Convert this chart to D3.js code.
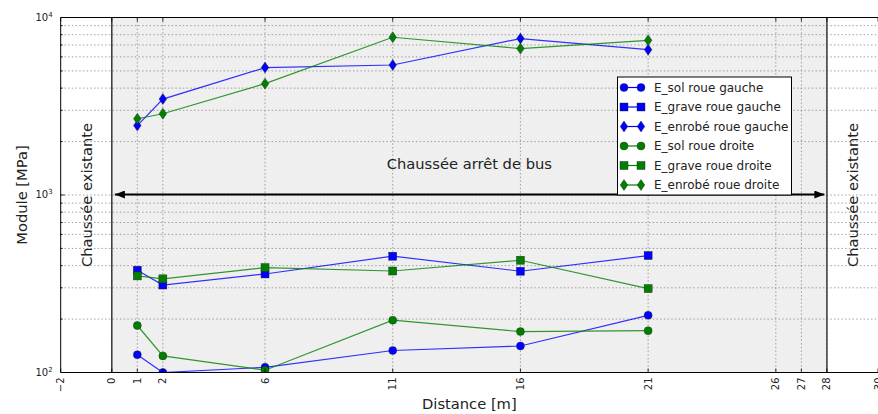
<!DOCTYPE html>
<html><head><meta charset="utf-8">
<script src="https://cdn.jsdelivr.net/npm/d3@7"></script>
<style>body{margin:0;background:#fff;overflow:hidden}svg{display:block}text{font-family:"DejaVu Sans",sans-serif}</style>
</head><body><svg id="c" width="878" height="414"></svg>
<script>
const distances = [1, 2, 6, 11, 16, 21];
const eSolGauche = [126, 100, 107, 133, 141, 210];
const eGraveGauche = [377, 311, 359, 452, 372, 456];
const eEnrobeGauche = [2460, 3470, 5220, 5400, 7610, 6590];
const eSolDroite = [184, 124, 103, 197, 170, 172];
const eGraveDroite = [350, 337, 390, 373, 429, 297];
const eEnrobeDroite = [2690, 2870, 4240, 7740, 6680, 7440];
const seriesNames = ["E_sol roue gauche","E_grave roue gauche","E_enrobé roue gauche","E_sol roue droite","E_grave roue droite","E_enrobé roue droite"];
const seriesValues = [eSolGauche, eGraveGauche, eEnrobeGauche, eSolDroite, eGraveDroite, eEnrobeDroite];
const seriesColors = ["#0000ff","#0000ff","#0000ff","#007f00","#007f00","#007f00"];
const seriesMarkers = ["circle","square","diamond","circle","square","diamond"];
const xTicks = [-2, 0, 1, 2, 6, 11, 16, 21, 26, 27, 28, 30];
const yMajor = [100, 1000, 10000];
const yExponents = ["2", "3", "4"];
const zoneBounds = [0, 28];
const zoneLabel = "Chaussée arrêt de bus";
const sideLabel = "Chaussée existante";
const xLabel = "Distance [m]";
const yLabel = "Module [MPa]";

const svg = d3.select("#c");
const L = 60.7, R = 878, T = 17.5, B = 372.5;
const x = d3.scaleLinear().domain([-2, 30]).range([L, R]);
const y = d3.scaleLog().domain([100, 10000]).range([B, T]);
const BIG = 14.7;

svg.append("defs").append("clipPath").attr("id","clip").append("rect")
  .attr("x", L).attr("y", T).attr("width", R - L).attr("height", B - T);

// shaded zone
svg.append("rect").attr("x", x(zoneBounds[0])).attr("y", T)
  .attr("width", x(zoneBounds[1]) - x(zoneBounds[0])).attr("height", B - T)
  .attr("fill", "#efefef");

// grid
const yGrid = [];
for (let d = 100; d < 10000; d *= 10) for (let k = 1; k <= 9; k++) yGrid.push(d * k);
yGrid.push(10000);
const g = svg.append("g").attr("stroke", "#8a8a8a").attr("stroke-width", 0.8).attr("stroke-dasharray", "1.5,2.2");
g.selectAll("line.h").data(yGrid.filter(v => v > 100 && v < 10000)).join("line")
  .attr("x1", L).attr("x2", R).attr("y1", d => y(d)).attr("y2", d => y(d));
g.selectAll("line.v").data(xTicks.filter(v => v > -2 && v < 30)).join("line")
  .attr("x1", d => x(d)).attr("x2", d => x(d)).attr("y1", T).attr("y2", B);

// zone boundaries
svg.selectAll("line.zb").data(zoneBounds).join("line")
  .attr("x1", d => x(d)).attr("x2", d => x(d)).attr("y1", T).attr("y2", B)
  .attr("stroke", "#3a3a3a").attr("stroke-width", 1.5);

// series
const plot = svg.append("g").attr("clip-path", "url(#clip)");
function marker(sel, type, color, cx, cy) {
  if (type === "circle") sel.append("circle").attr("cx", cx).attr("cy", cy).attr("r", 4);
  else if (type === "square") sel.append("rect").attr("x", cx - 4).attr("y", cy - 4).attr("width", 8).attr("height", 8);
  else sel.append("path").attr("d", `M${cx},${cy-5.5}L${cx+3.8},${cy}L${cx},${cy+5.5}L${cx-3.8},${cy}Z`);
}
const line = d3.line().x(d => x(d[0])).y(d => y(d[1]));
seriesValues.forEach((vals, i) => {
  const pts = distances.map((d, j) => [d, vals[j]]);
  plot.append("path").attr("d", line(pts)).attr("fill", "none")
    .attr("stroke", seriesColors[i]).attr("stroke-width", 1.2).attr("stroke-opacity", 0.8);
  const mg = plot.append("g").attr("fill", seriesColors[i]).attr("stroke", "#222").attr("stroke-width", 0.4);
  pts.forEach(p => marker(mg, seriesMarkers[i], seriesColors[i], x(p[0]), y(p[1])));
});

// arrow
const defs = svg.select("defs");
["s","e"].forEach(k => {
  defs.append("marker").attr("id", "ah" + k).attr("viewBox", "0 0 10 8")
    .attr("refX", 10).attr("refY", 4).attr("markerWidth", 10).attr("markerHeight", 8)
    .attr("markerUnits", "userSpaceOnUse").attr("orient", k === "s" ? "auto-start-reverse" : "auto")
    .append("path").attr("d", "M0,0L10,4L0,8Z").attr("fill", "#000");
});
svg.append("line").attr("x1", x(0.12)).attr("x2", x(27.9)).attr("y1", y(1000) - 0.5).attr("y2", y(1000) - 0.5)
  .attr("stroke", "#000").attr("stroke-width", 2)
  .attr("marker-start", "url(#ahs)").attr("marker-end", "url(#ahe)");

// texts
svg.append("text").attr("x", x(14)).attr("y", y(1500)).attr("text-anchor", "middle")
  .attr("dominant-baseline", "central").attr("font-size", BIG).attr("fill", "#222").text(zoneLabel);
[-1, 29].forEach(v => {
  svg.append("text").attr("transform", `translate(${x(v)},${y(1000)}) rotate(-90)`)
    .attr("text-anchor", "middle").attr("dominant-baseline", "central")
    .attr("font-size", BIG).attr("fill", "#222").text(sideLabel);
});

// spines
svg.append("path").attr("d", `M${R},${T}H${L}V${B}H${R}`).attr("fill", "none").attr("stroke", "#000").attr("stroke-width", 1);

// ticks
const tk = svg.append("g").attr("stroke", "#000").attr("stroke-width", 0.8);
xTicks.forEach(v => {
  tk.append("line").attr("x1", x(v)).attr("x2", x(v)).attr("y1", B).attr("y2", B - 4);
  tk.append("line").attr("x1", x(v)).attr("x2", x(v)).attr("y1", T).attr("y2", T + 4);
});
yGrid.forEach(v => {
  const len = yMajor.includes(v) ? 4 : 2;
  tk.append("line").attr("x1", L).attr("x2", L + len).attr("y1", y(v)).attr("y2", y(v));
});

// x tick labels
svg.selectAll("text.xt").data(xTicks).join("text")
  .attr("transform", d => `translate(${x(d)},${B + 5}) rotate(-90)`)
  .attr("text-anchor", "end").attr("dominant-baseline", "central")
  .attr("font-size", 10).attr("fill", "#222")
  .text(d => d < 0 ? "\u2212" + (-d) : String(d));

// y tick labels
yMajor.forEach((v, i) => {
  const t = svg.append("text").attr("x", L - 8).attr("y", y(v) + 3).attr("text-anchor", "end")
    .attr("font-size", 10).attr("fill", "#222");
  t.append("tspan").text("10");
  t.append("tspan").attr("font-size", 7).attr("dy", -4).text(yExponents[i]);
});

// axis labels
svg.append("text").attr("x", (L + R) / 2).attr("y", 409).attr("text-anchor", "middle")
  .attr("font-size", BIG).attr("fill", "#222").text(xLabel);
svg.append("text").attr("transform", `translate(21,${(T + B) / 2}) rotate(-90)`)
  .attr("text-anchor", "middle").attr("dominant-baseline", "central")
  .attr("font-size", BIG).attr("fill", "#222").text(yLabel);

// legend
const lg = svg.append("g");
lg.append("rect").attr("x", 617.5).attr("y", 77).attr("width", 174).attr("height", 118)
  .attr("fill", "#fff").attr("stroke", "#000").attr("stroke-width", 1);
seriesNames.forEach((n, i) => {
  const cy = 87.5 + i * 19.5;
  lg.append("line").attr("x1", 624).attr("x2", 641).attr("y1", cy).attr("y2", cy)
    .attr("stroke", seriesColors[i]).attr("stroke-width", 1.2);
  const mg = lg.append("g").attr("fill", seriesColors[i]).attr("stroke", "#222").attr("stroke-width", 0.4);
  marker(mg, seriesMarkers[i], seriesColors[i], 624, cy);
  marker(mg, seriesMarkers[i], seriesColors[i], 641, cy);
  lg.append("text").attr("x", 654).attr("y", cy).attr("dominant-baseline", "central")
    .attr("font-size", 12).attr("fill", "#222").text(n);
});
</script></body></html>
